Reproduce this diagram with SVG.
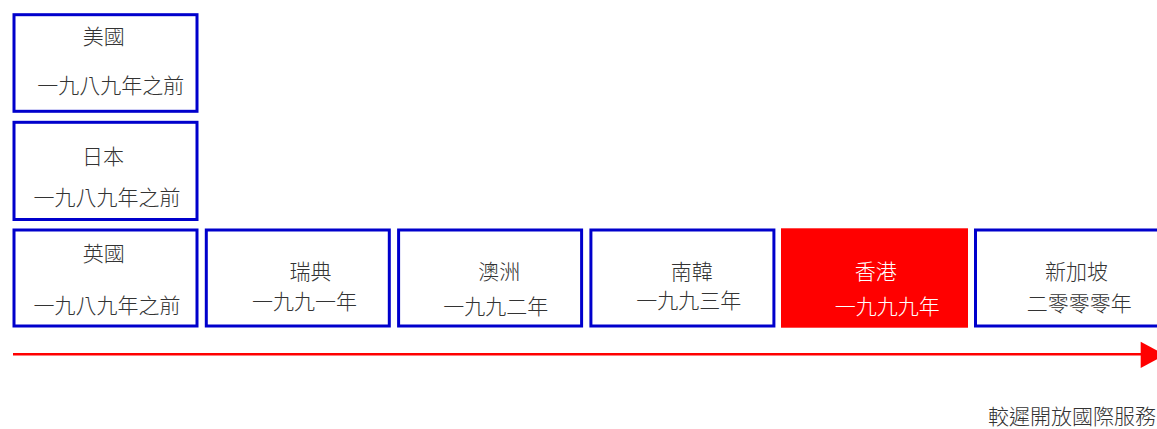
<svg xmlns="http://www.w3.org/2000/svg" width="1157" height="429" viewBox="0 0 1157 429">
<style>
.box{fill:#ffffff;stroke:#0000cc;stroke-width:3}
.hl{fill:#ff0000;stroke:#ff0000;stroke-width:3}
text{font-family:"Noto Sans CJK TC","Noto Sans CJK SC",sans-serif;font-size:21px;font-weight:300;fill:#333333;text-anchor:middle}
text.w{fill:#ffffff}
</style>
<g id="connectors">
<line x1="13" y1="354.3" x2="1141" y2="354.3" stroke="#ff0000" stroke-width="2.5"/>
<polygon points="1140.7,341.7 1165,355 1140.7,368" fill="#ff0000"/>
</g>
<g id="usa">
<rect class="box" x="14" y="14.7" width="183" height="96.6"/>
<text x="103.7" y="44">美國</text>
<text x="110.8" y="92.8">一九八九年之前</text>
</g>
<g id="japan">
<rect class="box" x="14" y="122.3" width="183" height="97.2"/>
<text x="103" y="164.2">日本</text>
<text x="107" y="205.2">一九八九年之前</text>
</g>
<g id="uk">
<rect class="box" x="14" y="230" width="183" height="96"/>
<text x="103.7" y="261">英國</text>
<text x="107" y="313">一九八九年之前</text>
</g>
<g id="sweden">
<rect class="box" x="206.3" y="230" width="183" height="96"/>
<text x="310.5" y="278.5">瑞典</text>
<text x="304.5" y="308.5">一九九一年</text>
</g>
<g id="australia">
<rect class="box" x="398.6" y="230" width="183" height="96"/>
<text x="499.2" y="278.5">澳洲</text>
<text x="495.8" y="313.5">一九九二年</text>
</g>
<g id="korea">
<rect class="box" x="590.9" y="230" width="183" height="96"/>
<text x="691.7" y="278.5">南韓</text>
<text x="688.7" y="307.5">一九九三年</text>
</g>
<g id="hongkong">
<rect class="hl" x="782.5" y="229.8" width="184" height="96.4"/>
<text class="w" x="875.8" y="278.5">香港</text>
<text class="w" x="887.2" y="313.5">一九九九年</text>
</g>
<g id="singapore">
<rect class="box" x="975.5" y="230" width="183" height="96"/>
<text x="1076.5" y="278.5">新加坡</text>
<text x="1079.2" y="311">二零零零年</text>
</g>
<g id="caption">
<text x="1072" y="424">較遲開放國際服務</text>
</g>
</svg>
